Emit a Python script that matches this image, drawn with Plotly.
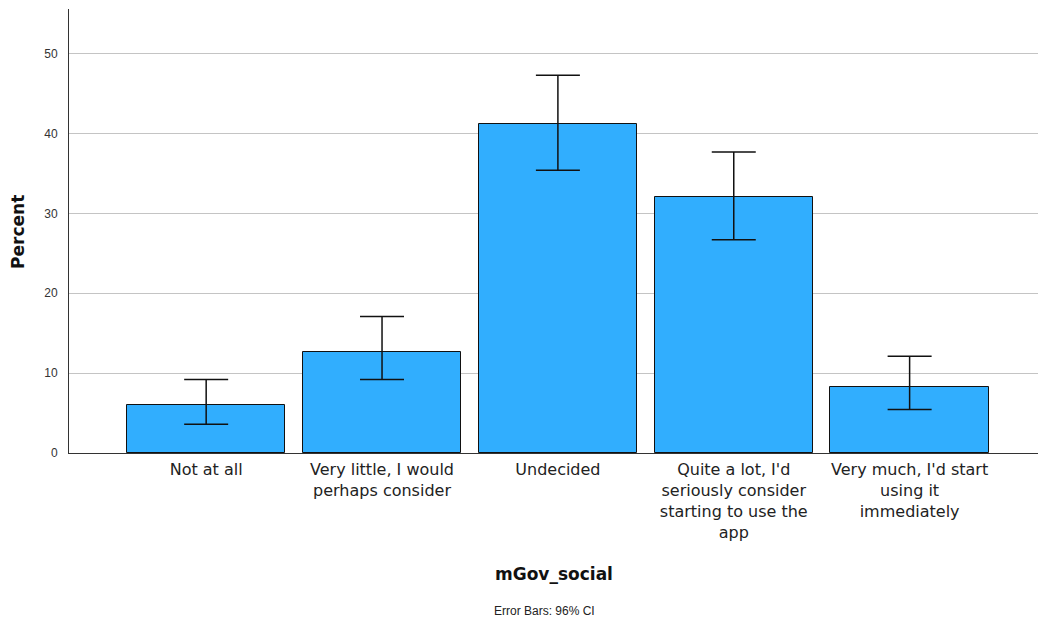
import plotly.graph_objects as go

# Response categories and percentages with 96% confidence limits
categories = [
    "Not at all",
    "Very little, I would<br>perhaps consider",
    "Undecided",
    "Quite a lot, I'd<br>seriously consider<br>starting to use the<br>app",
    "Very much, I'd start<br>using it<br>immediately",
]
percent = [6.0, 12.7, 41.2, 32.1, 8.3]
ci_upper = [9.2, 17.1, 47.3, 37.7, 12.1]
ci_lower = [3.6, 9.2, 35.4, 26.7, 5.45]
y_ticks = [0, 10, 20, 30, 40, 50]

err_plus = [u - p for u, p in zip(ci_upper, percent)]
err_minus = [p - l for p, l in zip(percent, ci_lower)]

FONT = "Liberation Sans, Arial, sans-serif"
WIDE = "DejaVu Sans, Verdana, sans-serif"

fig = go.Figure(
    go.Bar(
        x=list(range(len(categories))),
        y=percent,
        width=0.9,
        marker=dict(color="#31aefe", line=dict(color="#111111", width=1)),
        error_y=dict(
            type="data",
            symmetric=False,
            array=err_plus,
            arrayminus=err_minus,
            color="#111111",
            thickness=1.5,
            width=22,
        ),
        hoverinfo="skip",
    )
)

fig.update_layout(
    width=1038,
    height=623,
    margin=dict(l=69, r=0, t=9, b=170),
    paper_bgcolor="white",
    plot_bgcolor="white",
    showlegend=False,
    font=dict(family=FONT, color="#222222"),
    bargap=0,
)

fig.update_xaxes(
    tickmode="array",
    tickvals=list(range(len(categories))),
    ticktext=categories,
    range=[-0.78, 4.73],
    showline=True,
    linecolor="#333333",
    linewidth=1,
    ticks="",
    showgrid=False,
    tickfont=dict(family=WIDE, size=16, color="#222222"),
    ticklabelstandoff=2,
    zeroline=False,
)

fig.update_yaxes(
    range=[0, 55.6],
    tickmode="array",
    tickvals=y_ticks,
    showline=True,
    linecolor="#333333",
    linewidth=1,
    ticks="",
    ticklen=0,
    showgrid=True,
    gridcolor="#c4c4c4",
    gridwidth=1,
    zeroline=False,
    tickfont=dict(size=12, color="#333333"),
    ticklabelstandoff=8,
)

fig.add_annotation(
    text="<b>Percent</b>", textangle=-90,
    xref="paper", yref="paper", x=-0.0526, y=0.498,
    showarrow=False, font=dict(family=WIDE, size=17, color="#111111"),
    xanchor="center", yanchor="middle",
)
fig.add_annotation(
    text="<b>mGov_social</b>",
    xref="paper", yref="paper", x=0.50, y=-0.2725,
    showarrow=False, font=dict(family=WIDE, size=17, color="#111111"),
    xanchor="center", yanchor="middle",
)
fig.add_annotation(
    text="Error Bars: 96% CI",
    xref="paper", yref="paper", x=0.491, y=-0.356,
    showarrow=False, font=dict(size=12, color="#222222"),
    xanchor="center", yanchor="middle",
)

fig.write_html("out.html")
